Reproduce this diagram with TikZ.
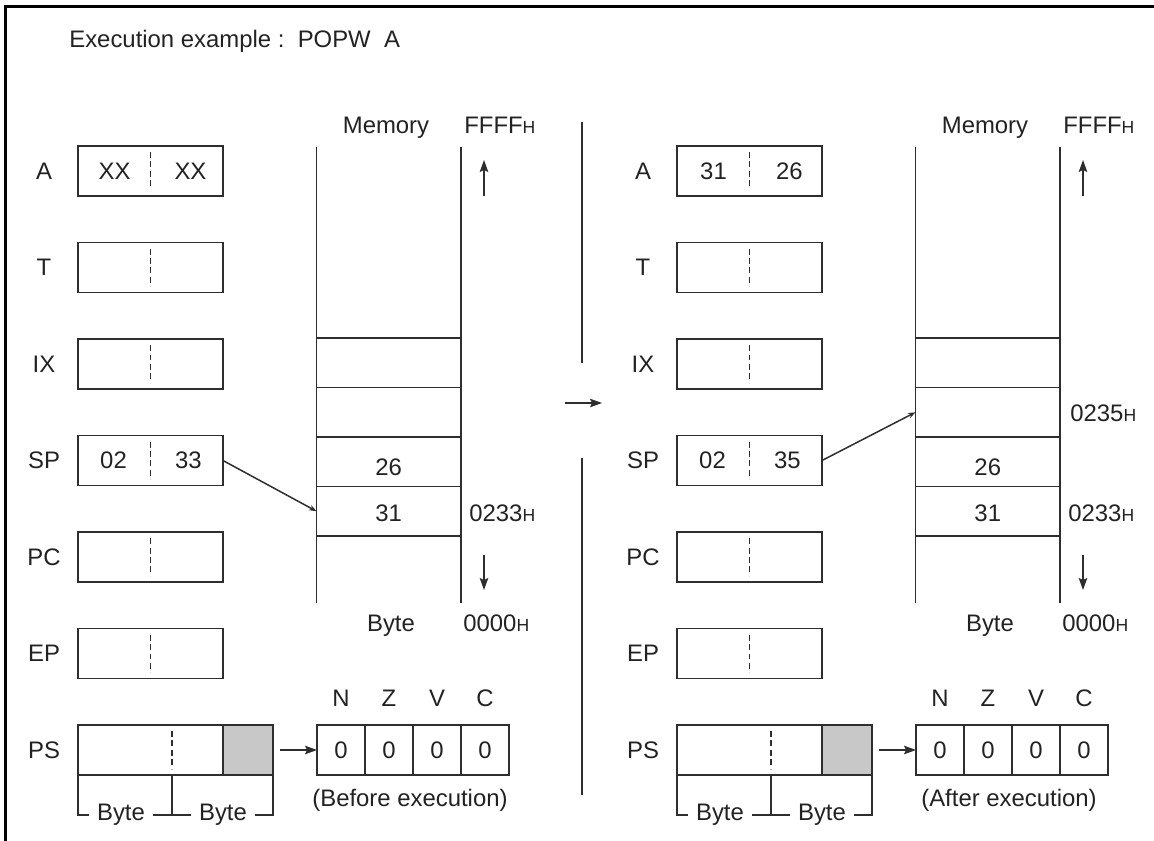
\documentclass[tikz,border=0pt]{standalone}
\usepackage{fontspec}
\setmainfont{Liberation Sans}
\usetikzlibrary{arrows.meta,calc}
\definecolor{ink}{HTML}{222222}
\definecolor{ln}{HTML}{2E2E2E}
\definecolor{shade}{HTML}{C8C8C8}
\newcommand\hsub{{\fontsize{10}{11}\selectfont H}}
\tikzset{
  regbox/.style={draw=ln, line width=0.032cm, minimum width=2.9cm, minimum height=1cm, inner sep=0pt, outer sep=0pt},
  psbox/.style={regbox, minimum width=3.9cm},
  graybox/.style={regbox, fill=shade, minimum width=1cm},
  memcell/.style={draw=ln, line width=0.032cm, minimum width=2.89cm, minimum height=0.99cm, inner sep=0pt, outer sep=0pt},
  flagcell/.style={draw=ln, line width=0.032cm, minimum width=0.96cm, minimum height=1cm, inner sep=0pt, outer sep=0pt, text=ink, font=\fontsize{13.6}{16}\selectfont},
  txt/.style={text=ink, inner sep=0pt, font=\fontsize{13.6}{16}\selectfont},
  bytetxt/.style={txt, inner xsep=0.16cm},
  divline/.style={draw=ln, line width=0.03cm, dash pattern=on 0.12cm off 0.07cm},
  plain/.style={draw=ln, line width=0.032cm},
  frameline/.style={draw=black, line width=0.06cm},
  bigarrow/.style={draw=ln, line width=0.032cm, -{Stealth[length=0.24cm,width=0.17cm,inset=0.04cm]}},
  ptr/.style={draw=ln, line width=0.03cm, -{Stealth[length=0.15cm,width=0.11cm]}},
}
% #1 prefix, #2 x offset, #3 A high, #4 A low, #5 SP low, #6 caption
\newcommand\drawpanel[6]{%
  \foreach \r [count=\k from 0] in {A,T,IX,SP,PC,EP} {
    \pgfmathsetmacro\yc{171+96.5*\k}
    \node[txt] (#1lab\r) at (44+#2,\yc) {\r};
    \node[regbox] (#1\r) at (150.5+#2,\yc) {};
    \draw[divline] ([yshift=-0.12cm]#1\r.north) -- ([yshift=0.12cm]#1\r.south);
  }
  \node[txt] (#1Ahi) at ([xshift=-0.72cm]#1A.center) {#3};
  \node[txt] (#1Alo) at ([xshift=0.80cm]#1A.center) {#4};
  \node[txt] (#1SPhi) at ([xshift=-0.74cm]#1SP.center) {02};
  \node[txt] (#1SPlo) at ([xshift=0.76cm]#1SP.center) {#5};
  % PS
  \node[txt] (#1labPS) at (44+#2,750) {PS};
  \node[psbox] (#1PS) at (175.5+#2,750) {};
  \node[graybox] (#1PSg) at (248+#2,750) {};
  \coordinate (#1PSmidt) at (172+#2,725);
  \coordinate (#1PSmid) at (172+#2,775);
  \draw[divline] ([yshift=-0.12cm]#1PSmidt) -- ([yshift=0.12cm]#1PSmid);
  \node[bytetxt, anchor=base] (#1by1) at (121+#2,820) {Byte};
  \node[bytetxt, anchor=base] (#1by2) at (223+#2,820) {Byte};
  \draw[plain] (#1PS.south west) |- ([yshift=0.1cm]#1by1.base west);
  \draw[plain] (#1PSmid) |- ([yshift=0.1cm]#1by1.base east);
  \draw[plain] (#1PSmid) |- ([yshift=0.1cm]#1by2.base west);
  \draw[plain] (#1PS.south east) |- ([yshift=0.1cm]#1by2.base east);
  % flags
  \foreach \f/\fl [count=\i from 0] in {0/N,1/Z,2/V,3/C} {
    \node[flagcell] (#1F\f) at (341+48*\i+#2,750) {0};
    \node[txt] (#1FL\f) at (341+48*\i+#2,698) {\fl};
  }
  \draw[bigarrow, shorten <=0.14cm] (#1PSg.east) -- (#1F0.west);
  \node[txt] (#1cap) at (410+#2,800) {#6};
  % memory
  \coordinate (#1mtl) at (316.5+#2,147);
  \coordinate (#1mbl) at (316.5+#2,603);
  \coordinate (#1mtr) at (461+#2,147);
  \coordinate (#1mbr) at (461+#2,603);
  \foreach \m [count=\j from 0] in {1,2,3,4} {
    \node[memcell] (#1M\m) at (388.75+#2,362.75+49.5*\j) {};
  }
  \draw[plain] (#1mtl) -- (#1mbl);
  \draw[plain] (#1mtr) -- (#1mbr);
  \node[txt] (#1v26) at (388.75+#2,467) {26};
  \node[txt] (#1v31) at (388.75+#2,513) {31};
  \node[txt, anchor=base] (#1mem) at (386+#2,134) {Memory};
  \node[txt, anchor=base west] (#1ffff) at (464+#2,134) {FFFF\hsub};
  \node[txt, anchor=base] (#1byte) at (391+#2,631) {Byte};
  \node[txt, anchor=base west] (#1zero) at (463+#2,631) {0000\hsub};
  \node[txt, anchor=base west] (#1a233) at (469+#2,521) {0233\hsub};
  \coordinate (#1upa) at (484+#2,196);
  \coordinate (#1upb) at (484+#2,160);
  \coordinate (#1dna) at (484+#2,555);
  \coordinate (#1dnb) at (484+#2,590);
  \draw[bigarrow] (#1upa) -- (#1upb);
  \draw[bigarrow] (#1dna) -- (#1dnb);
}
\begin{document}
\begin{tikzpicture}[x=0.02cm,y=-0.02cm]
  \useasboundingbox (0,0) rectangle (1154,841);
  \draw[frameline] (5.5,841) -- (5.5,7) -- (1154,7);
  \node[txt, anchor=base west] (title) at (69,48) {Execution example :\ \ POPW\ \ A};
  \drawpanel{L}{0}{XX}{XX}{33}{(Before execution)}
  \drawpanel{R}{599}{31}{26}{35}{(After execution)}
  \node[txt, anchor=base west] (Ra235) at (1070,421) {0235\hsub};
  \draw[ptr] (LSP.east) -- (LM4.west);
  \draw[ptr] (RSP.east) -- (RM2.west);
  % middle divider and transition arrow
  \coordinate (d1) at (582,122);
  \coordinate (d2) at (582,363);
  \coordinate (d3) at (582,458);
  \coordinate (d4) at (582,795);
  \coordinate (ma) at (565,403);
  \coordinate (mb) at (602,403);
  \draw[plain] (d1) -- (d2);
  \draw[plain] (d3) -- (d4);
  \draw[bigarrow] (ma) -- (mb);
\end{tikzpicture}
\end{document}
